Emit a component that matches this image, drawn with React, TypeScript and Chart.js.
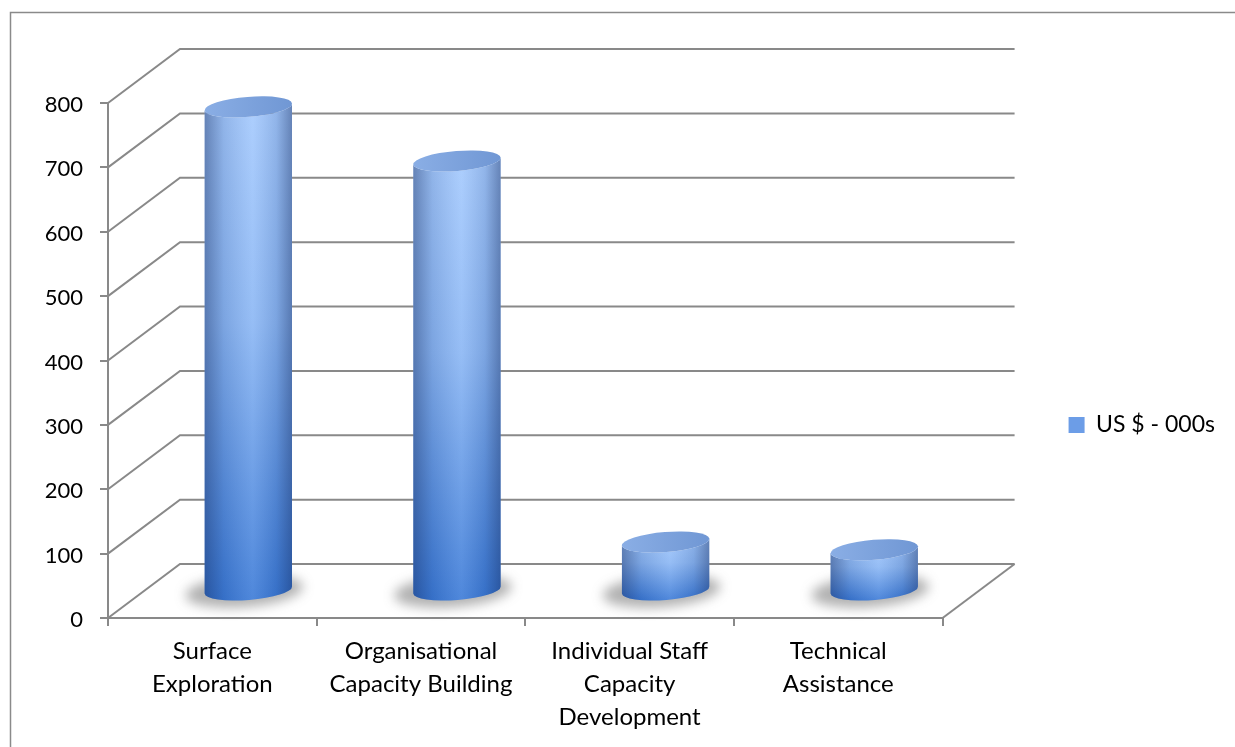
import React, { useEffect, useRef } from "react";
import { Chart, registerables } from "chart.js";

Chart.register(...registerables);

// ---- data ----
const categories: string[][] = [
  ["Surface", "Exploration"],
  ["Organisational", "Capacity Building"],
  ["Individual Staff", "Capacity", "Development"],
  ["Technical", "Assistance"],
];
const seriesLabel = "US $ - 000s";
const values: number[] = [752, 668, 76, 64];
const yMin = 0;
const yMax = 800;
const yStep = 100;

// ---- style ----
const DX = 72; // depth offset (x) of the 3D back wall
const DY = -54; // depth offset (y) of the 3D back wall
const GRID = "#898989";
const FONT = "Lato";

function drawCylinder(
  ctx: CanvasRenderingContext2D,
  cx: number,
  topY: number,
  baseY: number,
  rx: number,
  ry: number
) {
  const rot = -0.08;
  const pt = (cy: number, t: number) => [
    cx + rx * Math.cos(t) * Math.cos(rot) - ry * Math.sin(t) * Math.sin(rot),
    cy + rx * Math.cos(t) * Math.sin(rot) + ry * Math.sin(t) * Math.cos(rot),
  ];

  // soft shadow on the floor
  ctx.save();
  ctx.filter = "blur(6px)";
  ctx.fillStyle = "rgba(70,70,70,0.42)";
  ctx.beginPath();
  ctx.ellipse(cx - 4, baseY + 1, rx + 15, ry + 6, rot, 0, Math.PI * 2);
  ctx.fill();
  ctx.restore();

  // body
  const [x0, y0] = pt(topY, Math.PI);
  const body = () => {
    ctx.beginPath();
    ctx.moveTo(x0, y0);
    ctx.ellipse(cx, baseY, rx, ry, rot, Math.PI, 0, true);
    ctx.ellipse(cx, topY, rx, ry, rot, 0, Math.PI, false);
    ctx.closePath();
  };
  ctx.save();
  const vg = ctx.createLinearGradient(0, topY - ry, 0, baseY + ry);
  vg.addColorStop(0, "#a5cafe");
  vg.addColorStop(0.45, "#8ab6f4");
  vg.addColorStop(1, "#3b7ad7");
  body();
  ctx.fillStyle = vg;
  ctx.fill();
  const hg = ctx.createLinearGradient(cx - rx, 0, cx + rx, 0);
  hg.addColorStop(0, "rgba(15,35,85,0.42)");
  hg.addColorStop(0.22, "rgba(15,35,85,0.12)");
  hg.addColorStop(0.55, "rgba(255,255,255,0.10)");
  hg.addColorStop(0.82, "rgba(15,35,85,0.12)");
  hg.addColorStop(1, "rgba(15,35,85,0.42)");
  body();
  ctx.fillStyle = hg;
  ctx.fill();
  ctx.restore();

  // top cap
  ctx.save();
  const tg = ctx.createLinearGradient(cx - rx, 0, cx + rx, 0);
  tg.addColorStop(0, "#8aaee5");
  tg.addColorStop(1, "#7097d4");
  ctx.beginPath();
  ctx.ellipse(cx, topY, rx, ry, rot, 0, Math.PI * 2);
  ctx.fillStyle = tg;
  ctx.fill();
  ctx.restore();
}

const wallsPlugin = {
  id: "walls3d",
  beforeDraw(chart: any) {
    const ctx = chart.ctx as CanvasRenderingContext2D;
    ctx.save();
    ctx.fillStyle = "#ffffff";
    ctx.fillRect(0, 0, chart.width, chart.height);
    // outer chart frame (only left/top visible in reference)
    ctx.strokeStyle = "#8a8a8a";
    ctx.lineWidth = 1.5;
    ctx.beginPath();
    ctx.moveTo(10.5, chart.height + 2);
    ctx.lineTo(10.5, 12.5);
    ctx.lineTo(chart.width + 2, 12.5);
    ctx.stroke();
    ctx.restore();
  },
  beforeDatasetsDraw(chart: any) {
    const ctx = chart.ctx as CanvasRenderingContext2D;
    const ys = chart.scales.y;
    const area = chart.chartArea;
    ctx.save();
    ctx.strokeStyle = GRID;
    ctx.lineWidth = 2;
    ctx.lineCap = "butt";
    for (const t of ys.ticks) {
      const y = ys.getPixelForValue(t.value);
      ctx.beginPath();
      ctx.moveTo(area.left, y);
      ctx.lineTo(area.left + DX, y + DY);
      ctx.lineTo(area.right + DX, y + DY);
      ctx.stroke();
    }
    // right edge of the floor
    const y0 = ys.getPixelForValue(yMin);
    ctx.beginPath();
    ctx.moveTo(area.right, y0);
    ctx.lineTo(area.right + DX, y0 + DY);
    ctx.stroke();
    ctx.restore();
  },
  afterDatasetsDraw(chart: any) {
    const ctx = chart.ctx as CanvasRenderingContext2D;
    const meta = chart.getDatasetMeta(0);
    meta.data.forEach((el: any) => {
      const rx = el.width / 2;
      drawCylinder(ctx, el.x + DX / 2, el.y + DY / 2, el.base + DY / 2, rx, 10);
    });
  },
};

export default function App() {
  const ref = useRef<HTMLCanvasElement | null>(null);
  useEffect(() => {
    if (!ref.current) return;
    const chart = new Chart(ref.current, {
      type: "bar",
      data: {
        labels: categories,
        datasets: [
          {
            label: seriesLabel,
            data: values,
            backgroundColor: "rgba(0,0,0,0)",
            borderWidth: 0,
            categoryPercentage: 1,
            barPercentage: 0.42,
          },
        ],
      },
      options: {
        responsive: false,
        animation: false,
        events: [],
        layout: { padding: { left: 20, top: 103, right: 10, bottom: 0 } },
        scales: {
          x: {
            type: "category",
            offset: true,
            grid: {
              offset: true,
              drawOnChartArea: false,
              drawTicks: true,
              tickLength: 8,
              color: GRID,
              lineWidth: 2,
            },
            border: { display: true, color: GRID, width: 2 },
            ticks: {
              color: "#000",
              font: { family: FONT, size: 24, lineHeight: 1.375 },
              maxRotation: 0,
              autoSkip: false,
              padding: 9,
            },
            afterFit: (s: any) => {
              s.height = 129;
            },
          },
          y: {
            type: "linear",
            min: yMin,
            max: yMax,
            grid: {
              drawOnChartArea: false,
              drawTicks: true,
              tickLength: 8,
              color: GRID,
              lineWidth: 2,
            },
            border: { display: true, color: GRID, width: 2 },
            ticks: {
              stepSize: yStep,
              color: "#000",
              font: { family: FONT, size: 22 },
              padding: 17,
              labelOffset: 2,
            },
            afterFit: (s: any) => {
              s.width = 88;
            },
          },
          spacer: {
            type: "linear",
            position: "right",
            display: true,
            grid: { display: false, drawTicks: false },
            border: { display: false },
            ticks: { display: false },
            afterFit: (s: any) => {
              s.width = 116;
            },
          },
        },
        plugins: {
          tooltip: { enabled: false },
          legend: {
            display: true,
            position: "right",
            labels: {
              color: "#000",
              font: { family: FONT, size: 23 },
              boxWidth: 16,
              boxHeight: 16,
              padding: 10,
              generateLabels: () => [
                {
                  text: seriesLabel,
                  fillStyle: "#6c9de7",
                  strokeStyle: "rgba(0,0,0,0)",
                  lineWidth: 0,
                  hidden: false,
                  datasetIndex: 0,
                },
              ],
            },
          },
        },
      },
      plugins: [wallsPlugin],
    } as any);
    return () => chart.destroy();
  }, []);

  return (
    <div style={{ position: "absolute", left: 0, top: 0, width: 1235, height: 747 }}>
      <canvas ref={ref} width={1235} height={747} style={{ display: "block" }} />
    </div>
  );
}
